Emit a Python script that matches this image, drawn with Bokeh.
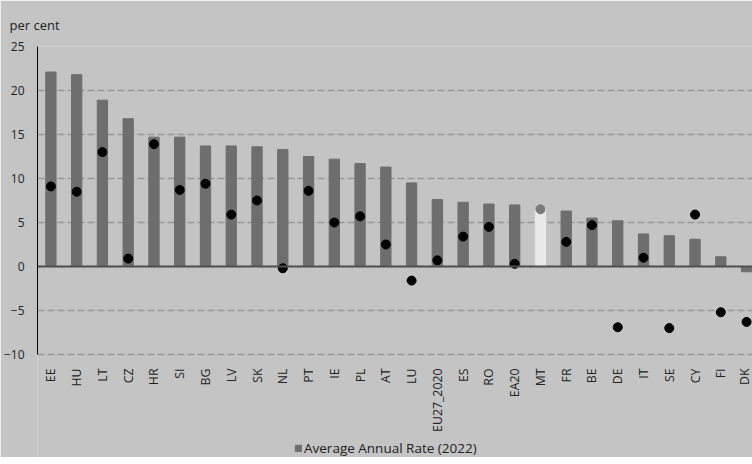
from bokeh.plotting import figure
from bokeh.models import (Range1d, FixedTicker, Span, Legend, LegendItem,
                          ColumnDataSource, LinearAxis)
from bokeh.embed import file_html
from bokeh.resources import INLINE

# ---- data ----
categories = ["EE", "HU", "LT", "CZ", "HR", "SI", "BG", "LV", "SK", "NL",
              "PT", "IE", "PL", "AT", "LU", "EU27_2020", "ES", "RO", "EA20",
              "MT", "FR", "BE", "DE", "IT", "SE", "CY", "FI", "DK"]
avg_annual_rate_2022 = [22.1, 21.8, 18.9, 16.8, 14.7, 14.7, 13.7, 13.7, 13.6,
                        13.3, 12.5, 12.2, 11.7, 11.3, 9.5, 7.6, 7.3, 7.1, 7.0,
                        6.55, 6.3, 5.5, 5.2, 3.7, 3.5, 3.1, 1.1, -0.6]
comparison_rate = [9.1, 8.5, 13.0, 0.9, 13.9, 8.7, 9.4, 5.9, 7.5, -0.2, 8.6,
                   5.0, 5.7, 2.5, -1.6, 0.7, 3.4, 4.5, 0.3, 6.5, 2.8, 4.7,
                   -6.9, 1.0, -7.0, 5.9, -5.2, -6.3]
highlight = "MT"
y_ticks = [-10, -5, 0, 5, 10, 15, 20, 25]
legend_label = "Average Annual Rate (2022)"

BG = "#c4c4c4"
BAR = "#6e6e6e"
FONT = "Open Sans"

xpos = list(range(len(categories)))
bar_colors = [("#e9e9e9" if c == highlight else BAR) for c in categories]
dot_colors = [("#7a7a7a" if c == highlight else "#000000") for c in categories]

src = ColumnDataSource(dict(x=xpos, cat=categories, bar=avg_annual_rate_2022,
                            dot=comparison_rate, bc=bar_colors, dc=dot_colors))

y_min, y_max = y_ticks[0], y_ticks[-1]
px_per_unit = 308 / (y_max - y_min)
# frame extends below the value axis to hold the category labels and legend
y_bottom = y_max - 411 / px_per_unit

p = figure(frame_width=715, frame_height=411, output_backend="svg",
           toolbar_location=None, x_axis_location=None,
           x_range=Range1d(-0.52, 27.23), y_range=Range1d(y_bottom, y_max),
           background_fill_color=BG, border_fill_color=BG,
           min_border_left=29, min_border_right=0, min_border_top=0,
           min_border_bottom=0)
p.outline_line_color = None

bars = p.vbar(x="x", top="bar", width=0.4, color="bc", source=src)
p.scatter(x="x", y="dot", size=9, color="dc", source=src)

p.add_layout(Span(location=0, dimension="width", line_color="#505050",
                  line_width=2))

# category axis sitting at the bottom of the value range
xaxis = LinearAxis(fixed_location=y_min, ticker=FixedTicker(ticks=xpos),
                   major_label_overrides={i: c for i, c in zip(xpos, categories)},
                   major_label_orientation=1.5707963,
                   axis_line_color=None, major_tick_line_color=None,
                   minor_tick_line_color=None, major_label_standoff=8,
                   major_label_text_font=FONT,
                   major_label_text_font_size="12.3px",
                   major_label_text_color="#222222")
p.add_layout(xaxis, "below")

p.yaxis.ticker = FixedTicker(ticks=y_ticks)
p.yaxis.bounds = (y_min, y_max)
p.yaxis.axis_line_color = "#000000"
p.yaxis.axis_line_width = 1
p.yaxis.major_tick_line_color = None
p.yaxis.minor_tick_line_color = None
p.yaxis.major_label_standoff = 7
p.yaxis.major_label_text_font = FONT
p.yaxis.major_label_text_font_size = "12px"
p.yaxis.major_label_text_color = "#222222"

p.xgrid.grid_line_color = None
p.xgrid.visible = False
p.ygrid.ticker = FixedTicker(ticks=y_ticks)
p.ygrid.grid_line_color = "#979797"
p.ygrid.grid_line_width = 1.6
p.ygrid.grid_line_dash = "7 3"

# "per cent" unit label above the y axis
p.title.text = "per cent"
p.title.align = "left"
p.title.offset = -28
p.title.standoff = 26
p.title.text_font = FONT
p.title.text_font_size = "13px"
p.title.text_font_style = "normal"
p.title.text_color = "#222222"

legend = Legend(items=[LegendItem(label=legend_label, renderers=[bars])],
                location=(257, 0), orientation="horizontal",
                background_fill_alpha=0, border_line_color=None,
                glyph_width=8, glyph_height=8, label_standoff=2,
                label_height=14, label_text_font=FONT,
                label_text_font_size="13.5px", label_text_color="#222222",
                padding=0, margin=0, spacing=0)
p.add_layout(legend, "center")

open("out.html", "w").write(file_html(p, INLINE))
